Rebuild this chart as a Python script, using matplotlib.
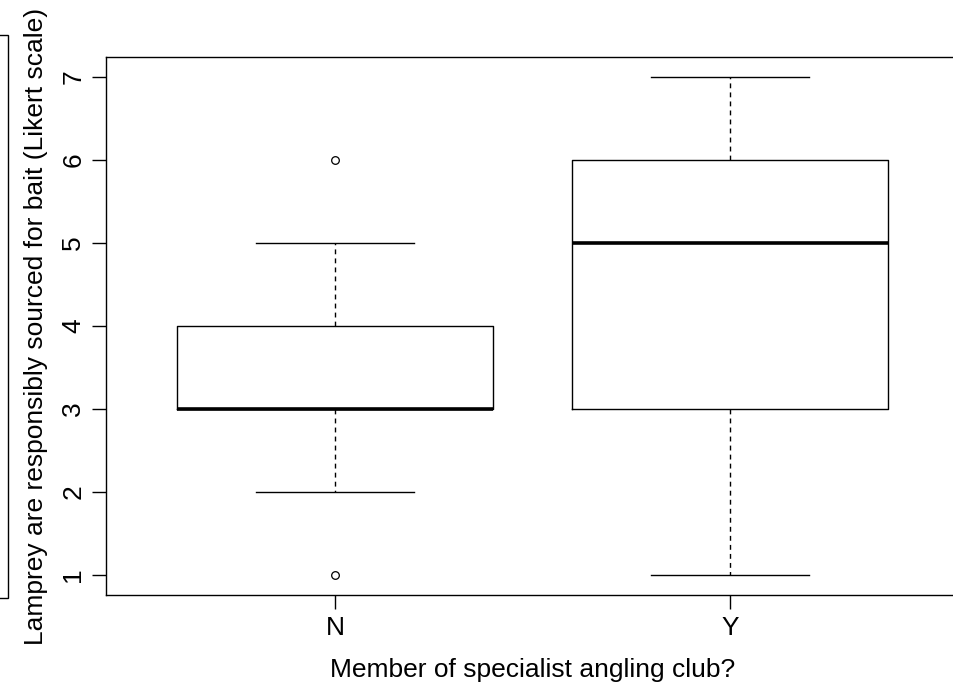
import numpy as np
import matplotlib.pyplot as plt
from matplotlib.patches import Rectangle

plt.rcParams['font.family'] = ['Liberation Sans', 'DejaVu Sans']

# Five-number summaries
groups = ['N', 'Y']
whisker_lo = [2, 1]
q1 = [3, 3]
medians = [3, 5]
q3 = [4, 6]
whisker_hi = [5, 7]
outliers = [[1, 6], []]

W, H = 954, 683
fig = plt.figure(figsize=(W / 100, H / 100), dpi=100)
ax = fig.add_axes([106 / W, 1 - 595 / H, (959 - 106) / W, (595 - 57) / H])

stats = []
for i, g in enumerate(groups):
    stats.append(dict(label=g, whislo=whisker_lo[i], q1=q1[i], med=medians[i],
                      q3=q3[i], whishi=whisker_hi[i], fliers=outliers[i]))

res = ax.bxp(stats, positions=[1, 2], widths=0.8, showfliers=True,
             boxprops=dict(color='black', linewidth=1),
             medianprops=dict(color='black', linewidth=2.6, solid_capstyle='butt'),
             whiskerprops=dict(color='black', linewidth=1, linestyle=(0, (3.5, 3))),
             capprops=dict(color='black', linewidth=1),
             flierprops=dict(marker='o', markersize=5.5, markerfacecolor='none',
                             markeredgecolor='black', markeredgewidth=0.9))
# caps are half the box width in R
for c in res['caps']:
    x = np.mean(c.get_xdata())
    c.set_xdata([x - 0.2, x + 0.2])

ax.set_xlim(0.42, 2.58)
ax.set_ylim(0.76, 7.24)
ax.set_yticks([1, 2, 3, 4, 5, 6, 7])
ax.set_xticks([1, 2])
ax.set_xticklabels(groups)
ax.tick_params(axis='both', length=10, width=1, labelsize=19, pad=5)
for lab in ax.get_yticklabels():
    lab.set_rotation(90)
    lab.set_va('center')
ax.set_xlabel('Member of specialist angling club?', fontsize=19)
ax.xaxis.set_label_coords(0.5, -(682 - 595) / 538)
ax.xaxis.label.set_va('bottom')
ax.set_ylabel('Lamprey are responsibly sourced for bait (Likert scale)', fontsize=19)
ax.yaxis.set_label_coords(-(106 - 48) / 853, 0.5)
for s in ax.spines.values():
    s.set_linewidth(1)

# remnant of a neighbouring panel on the left edge
fig.patches.append(Rectangle((-100 / W, 1 - 598 / H), 108 / W, (598 - 35) / H,
                             transform=fig.transFigure, fill=False,
                             edgecolor='black', linewidth=1))

fig.savefig('out.png', dpi=100)
